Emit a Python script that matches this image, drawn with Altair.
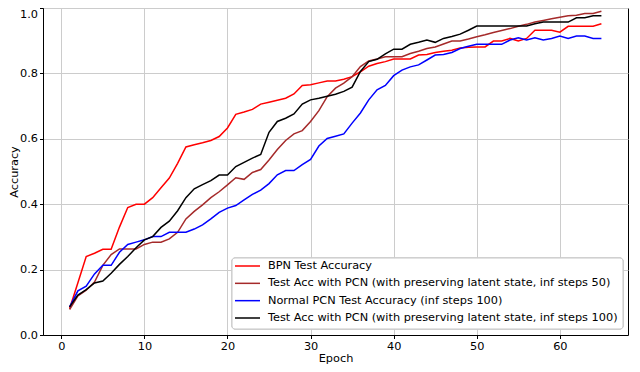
import altair as alt
import pandas as pd

epochs = list(range(1, 66))

bpn = [0.08, 0.16, 0.24, 0.25, 0.262, 0.262, 0.33, 0.39, 0.40, 0.40,
       0.42, 0.45, 0.48, 0.525, 0.575, 0.582, 0.588, 0.595, 0.607, 0.633,
       0.675, 0.682, 0.69, 0.706, 0.712, 0.718, 0.724, 0.737, 0.763, 0.765,
       0.771, 0.777, 0.777, 0.782, 0.79, 0.805, 0.822, 0.83, 0.836, 0.844,
       0.844, 0.844, 0.856, 0.858, 0.864, 0.868, 0.871, 0.878, 0.88, 0.881,
       0.881, 0.899, 0.899, 0.907, 0.899, 0.907, 0.932, 0.932, 0.932, 0.926,
       0.944, 0.944, 0.944, 0.944, 0.952]

pcn_keep50 = [0.078, 0.12, 0.137, 0.162, 0.213, 0.246, 0.263, 0.263, 0.263, 0.277,
              0.284, 0.284, 0.294, 0.314, 0.355, 0.378, 0.398, 0.42, 0.438, 0.459,
              0.481, 0.476, 0.497, 0.506, 0.535, 0.567, 0.595, 0.615, 0.625, 0.653,
              0.686, 0.729, 0.755, 0.77, 0.79, 0.821, 0.838, 0.844, 0.851, 0.851,
              0.851, 0.861, 0.868, 0.876, 0.881, 0.89, 0.899, 0.899, 0.905, 0.912,
              0.918, 0.925, 0.931, 0.937, 0.944, 0.95, 0.957, 0.962, 0.967, 0.972,
              0.976, 0.978, 0.983, 0.983, 0.99]

pcn_normal = [0.086, 0.135, 0.149, 0.187, 0.213, 0.213, 0.253, 0.277, 0.284, 0.291,
              0.301, 0.301, 0.314, 0.314, 0.314, 0.324, 0.337, 0.355, 0.375, 0.388,
              0.396, 0.413, 0.43, 0.443, 0.463, 0.49, 0.503, 0.503, 0.521, 0.537,
              0.578, 0.601, 0.608, 0.615, 0.648, 0.679, 0.719, 0.75, 0.763, 0.793,
              0.81, 0.82, 0.826, 0.841, 0.856, 0.858, 0.864, 0.876, 0.883, 0.889,
              0.889, 0.889, 0.889, 0.902, 0.909, 0.902, 0.909, 0.902, 0.907, 0.914,
              0.907, 0.914, 0.914, 0.907, 0.907]

pcn_keep100 = [0.086, 0.122, 0.139, 0.159, 0.165, 0.189, 0.216, 0.24, 0.267, 0.291,
               0.301, 0.329, 0.348, 0.38, 0.42, 0.447, 0.46, 0.472, 0.489, 0.489,
               0.515, 0.528, 0.541, 0.552, 0.62, 0.653, 0.663, 0.676, 0.706, 0.719,
               0.724, 0.73, 0.736, 0.745, 0.758, 0.806, 0.836, 0.843, 0.86, 0.874,
               0.874, 0.889, 0.895, 0.902, 0.895, 0.907, 0.913, 0.92, 0.932, 0.945,
               0.945, 0.945, 0.945, 0.945, 0.945, 0.945, 0.952, 0.957, 0.957, 0.957,
               0.957, 0.97, 0.97, 0.976, 0.976]

series_names = [
    "BPN Test Accuracy",
    "Test Acc with PCN (with preserving latent state, inf steps 50)",
    "Normal PCN Test Accuracy (inf steps 100)",
    "Test Acc with PCN (with preserving latent state, inf steps 100)",
]
series_colors = ["#ff0000", "#a52a2a", "#0000ff", "#000000"]
series_values = [bpn, pcn_keep50, pcn_normal, pcn_keep100]

x_ticks = [0, 10, 20, 30, 40, 50, 60]
y_ticks = [0.0, 0.2, 0.4, 0.6, 0.8, 1.0]

rows = []
for name, vals in zip(series_names, series_values):
    for e, v in zip(epochs, vals):
        rows.append({"Epoch": e, "Accuracy": v, "Series": name})
df = pd.DataFrame(rows)

legend_df = pd.DataFrame({"Series": series_names,
                          "row": list(range(len(series_names)))})

FONT = "DejaVu Sans"
FS = 11.3

color_scale = alt.Scale(domain=series_names, range=series_colors)

lines = alt.Chart(df).mark_line(strokeWidth=1.5).encode(
    x=alt.X("Epoch:Q",
            scale=alt.Scale(domain=[-2.2, 68.2], nice=False, zero=False),
            axis=alt.Axis(values=x_ticks, title="Epoch", format="d")),
    y=alt.Y("Accuracy:Q",
            scale=alt.Scale(domain=[0, 1], nice=False),
            axis=alt.Axis(values=y_ticks, title="Accuracy", format=".1f",
                          labelBaseline={"condition": {"test": "datum.value == 1",
                                                       "value": "top"},
                                         "value": "middle"})),
    color=alt.Color("Series:N", scale=color_scale, legend=None),
    order=alt.Order("Epoch:Q"),
)

# legend box
legend_box = alt.Chart(legend_df).mark_rect(
    fill="white", fillOpacity=0.8, stroke="#cccccc", strokeWidth=1,
    cornerRadius=3
).encode(
    x=alt.value(189), x2=alt.value(580),
    y=alt.value(250), y2=alt.value(321),
)

row_y = alt.Y("row:Q", scale=alt.Scale(domain=[0, 3], range=[258, 310]),
              axis=None)

legend_lines = alt.Chart(legend_df).mark_rule(strokeWidth=1.5).encode(
    x=alt.value(192), x2=alt.value(217),
    y=row_y,
    color=alt.Color("Series:N", scale=color_scale, legend=None),
)

legend_text = alt.Chart(legend_df).mark_text(
    align="left", baseline="middle", font=FONT, fontSize=FS, color="#000000"
).encode(
    x=alt.value(225),
    y=row_y,
    text="Series:N",
)

legend_layer = alt.layer(legend_box, legend_lines, legend_text)

chart = alt.layer(lines, legend_layer).resolve_scale(
    y="independent"
).properties(
    width=585, height=327,
    autosize=alt.AutoSizeParams(type="none"),
    padding={"left": 35, "top": 0, "right": 4, "bottom": 29},
).configure_view(
    stroke="#000000", strokeWidth=1
).configure_axis(
    grid=True, gridColor="#cccccc", gridWidth=1,
    domainColor="#000000", tickColor="#000000", tickSize=3.5,
    labelFont=FONT, labelFontSize=FS, labelColor="#000000", labelPadding=2,
    titleFont=FONT, titleFontSize=FS, titleColor="#000000",
    titleFontWeight="normal",
).configure_axisY(
    titlePadding=0
).configure_axisX(
    titlePadding=1
)

chart.save("out.html", embed_options={"renderer": "svg", "actions": False})
